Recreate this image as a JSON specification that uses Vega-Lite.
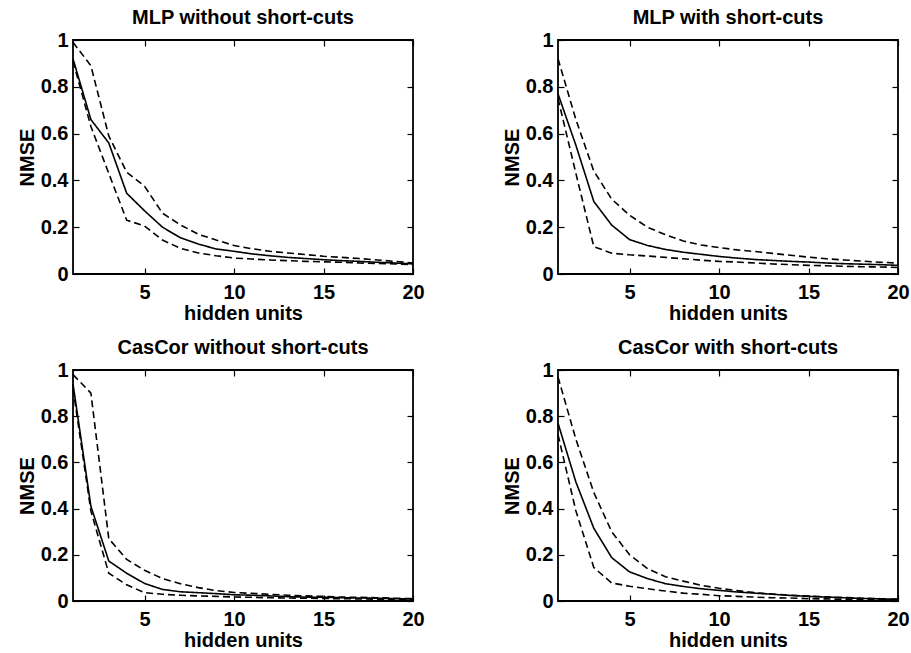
{
  "$schema": "https://vega.github.io/schema/vega-lite/v6.json",
  "padding": {"left": 16, "top": 7, "right": 0, "bottom": 0},
  "background": "white",
  "data": {"values": [
    {"p":1,"h":1,"mean":0.92,"upper":0.99,"lower":0.91},
    {"p":1,"h":2,"mean":0.66,"upper":0.89,"lower":0.63},
    {"p":1,"h":3,"mean":0.56,"upper":0.59,"lower":0.43},
    {"p":1,"h":4,"mean":0.345,"upper":0.435,"lower":0.23},
    {"p":1,"h":5,"mean":0.27,"upper":0.375,"lower":0.205},
    {"p":1,"h":6,"mean":0.2,"upper":0.26,"lower":0.145},
    {"p":1,"h":7,"mean":0.155,"upper":0.21,"lower":0.11},
    {"p":1,"h":8,"mean":0.128,"upper":0.17,"lower":0.09},
    {"p":1,"h":9,"mean":0.107,"upper":0.145,"lower":0.078},
    {"p":1,"h":10,"mean":0.097,"upper":0.122,"lower":0.068},
    {"p":1,"h":11,"mean":0.086,"upper":0.108,"lower":0.064},
    {"p":1,"h":12,"mean":0.078,"upper":0.097,"lower":0.06},
    {"p":1,"h":13,"mean":0.071,"upper":0.09,"lower":0.057},
    {"p":1,"h":14,"mean":0.066,"upper":0.083,"lower":0.054},
    {"p":1,"h":15,"mean":0.061,"upper":0.076,"lower":0.052},
    {"p":1,"h":16,"mean":0.057,"upper":0.071,"lower":0.05},
    {"p":1,"h":17,"mean":0.054,"upper":0.066,"lower":0.047},
    {"p":1,"h":18,"mean":0.05,"upper":0.06,"lower":0.045},
    {"p":1,"h":19,"mean":0.047,"upper":0.054,"lower":0.043},
    {"p":1,"h":20,"mean":0.043,"upper":0.047,"lower":0.04},
    {"p":2,"h":1,"mean":0.77,"upper":0.92,"lower":0.75},
    {"p":2,"h":2,"mean":0.55,"upper":0.66,"lower":0.43},
    {"p":2,"h":3,"mean":0.31,"upper":0.44,"lower":0.117},
    {"p":2,"h":4,"mean":0.209,"upper":0.32,"lower":0.089},
    {"p":2,"h":5,"mean":0.147,"upper":0.251,"lower":0.082},
    {"p":2,"h":6,"mean":0.122,"upper":0.2,"lower":0.077},
    {"p":2,"h":7,"mean":0.105,"upper":0.168,"lower":0.071},
    {"p":2,"h":8,"mean":0.093,"upper":0.141,"lower":0.065},
    {"p":2,"h":9,"mean":0.084,"upper":0.124,"lower":0.059},
    {"p":2,"h":10,"mean":0.075,"upper":0.113,"lower":0.054},
    {"p":2,"h":11,"mean":0.068,"upper":0.103,"lower":0.051},
    {"p":2,"h":12,"mean":0.062,"upper":0.096,"lower":0.047},
    {"p":2,"h":13,"mean":0.058,"upper":0.088,"lower":0.043},
    {"p":2,"h":14,"mean":0.054,"upper":0.08,"lower":0.04},
    {"p":2,"h":15,"mean":0.051,"upper":0.072,"lower":0.037},
    {"p":2,"h":16,"mean":0.047,"upper":0.065,"lower":0.035},
    {"p":2,"h":17,"mean":0.044,"upper":0.06,"lower":0.033},
    {"p":2,"h":18,"mean":0.042,"upper":0.055,"lower":0.031},
    {"p":2,"h":19,"mean":0.04,"upper":0.05,"lower":0.03},
    {"p":2,"h":20,"mean":0.037,"upper":0.047,"lower":0.028},
    {"p":3,"h":1,"mean":0.94,"upper":0.98,"lower":0.92},
    {"p":3,"h":2,"mean":0.41,"upper":0.9,"lower":0.39},
    {"p":3,"h":3,"mean":0.173,"upper":0.27,"lower":0.12},
    {"p":3,"h":4,"mean":0.12,"upper":0.18,"lower":0.07},
    {"p":3,"h":5,"mean":0.076,"upper":0.133,"lower":0.036},
    {"p":3,"h":6,"mean":0.05,"upper":0.097,"lower":0.029},
    {"p":3,"h":7,"mean":0.04,"upper":0.075,"lower":0.025},
    {"p":3,"h":8,"mean":0.036,"upper":0.058,"lower":0.022},
    {"p":3,"h":9,"mean":0.032,"upper":0.045,"lower":0.02},
    {"p":3,"h":10,"mean":0.027,"upper":0.037,"lower":0.017},
    {"p":3,"h":11,"mean":0.025,"upper":0.033,"lower":0.016},
    {"p":3,"h":12,"mean":0.022,"upper":0.029,"lower":0.014},
    {"p":3,"h":13,"mean":0.019,"upper":0.025,"lower":0.013},
    {"p":3,"h":14,"mean":0.017,"upper":0.022,"lower":0.012},
    {"p":3,"h":15,"mean":0.016,"upper":0.02,"lower":0.011},
    {"p":3,"h":16,"mean":0.014,"upper":0.017,"lower":0.01},
    {"p":3,"h":17,"mean":0.013,"upper":0.016,"lower":0.009},
    {"p":3,"h":18,"mean":0.012,"upper":0.014,"lower":0.008},
    {"p":3,"h":19,"mean":0.01,"upper":0.012,"lower":0.007},
    {"p":3,"h":20,"mean":0.009,"upper":0.01,"lower":0.006},
    {"p":4,"h":1,"mean":0.77,"upper":0.97,"lower":0.72},
    {"p":4,"h":2,"mean":0.515,"upper":0.7,"lower":0.39},
    {"p":4,"h":3,"mean":0.315,"upper":0.47,"lower":0.145},
    {"p":4,"h":4,"mean":0.188,"upper":0.3,"lower":0.078},
    {"p":4,"h":5,"mean":0.126,"upper":0.2,"lower":0.064},
    {"p":4,"h":6,"mean":0.097,"upper":0.14,"lower":0.053},
    {"p":4,"h":7,"mean":0.075,"upper":0.105,"lower":0.043},
    {"p":4,"h":8,"mean":0.063,"upper":0.086,"lower":0.034},
    {"p":4,"h":9,"mean":0.053,"upper":0.068,"lower":0.029},
    {"p":4,"h":10,"mean":0.046,"upper":0.055,"lower":0.023},
    {"p":4,"h":11,"mean":0.039,"upper":0.045,"lower":0.02},
    {"p":4,"h":12,"mean":0.034,"upper":0.036,"lower":0.017},
    {"p":4,"h":13,"mean":0.029,"upper":0.03,"lower":0.014},
    {"p":4,"h":14,"mean":0.024,"upper":0.025,"lower":0.013},
    {"p":4,"h":15,"mean":0.02,"upper":0.021,"lower":0.01},
    {"p":4,"h":16,"mean":0.017,"upper":0.018,"lower":0.009},
    {"p":4,"h":17,"mean":0.014,"upper":0.015,"lower":0.007},
    {"p":4,"h":18,"mean":0.011,"upper":0.012,"lower":0.006},
    {"p":4,"h":19,"mean":0.009,"upper":0.01,"lower":0.005},
    {"p":4,"h":20,"mean":0.007,"upper":0.008,"lower":0.004}
  ]},
  "transform": [{"fold": ["mean", "upper", "lower"], "as": ["series", "nmse"]}],
  "columns": 2,
  "spacing": {"column": 75, "row": 13},
  "concat": [
    {
      "title": "MLP without short-cuts",
      "transform": [{"filter": "datum.p === 1"}],
      "width": 340, "height": 234,
      "resolve": {"axis": {"x": "independent", "y": "independent"}},
      "encoding": {
        "strokeDash": {"field": "series", "type": "nominal", "scale": {"domain": ["mean", "upper", "lower"], "range": [[1, 0], [7, 4], [7, 4]]}, "legend": null}
      },
      "layer": [
        {
          "mark": {"type": "line", "color": "black", "strokeWidth": 1.6},
          "encoding": {
            "x": {"field": "h", "type": "quantitative", "scale": {"domain": [1, 20], "nice": false}, "axis": {"values": [5, 10, 15, 20], "title": "hidden units"}},
            "y": {"field": "nmse", "type": "quantitative", "scale": {"domain": [0, 1], "nice": false}, "axis": {"values": [0, 0.2, 0.4, 0.6, 0.8, 1], "format": "~g", "title": "NMSE"}}
          }
        },
        {
          "mark": {"type": "line", "color": "black", "strokeWidth": 1.6, "opacity": 0},
          "encoding": {
            "x": {"field": "h", "type": "quantitative", "scale": {"domain": [1, 20], "nice": false}, "axis": {"orient": "top", "values": [5, 10, 15, 20], "labels": false, "title": null}},
            "y": {"field": "nmse", "type": "quantitative", "scale": {"domain": [0, 1], "nice": false}, "axis": {"orient": "right", "values": [0, 0.2, 0.4, 0.6, 0.8, 1], "labels": false, "title": null}}
          }
        }
      ]
    },
    {
      "title": "MLP with short-cuts",
      "transform": [{"filter": "datum.p === 2"}],
      "width": 340, "height": 234,
      "resolve": {"axis": {"x": "independent", "y": "independent"}},
      "encoding": {
        "strokeDash": {"field": "series", "type": "nominal", "scale": {"domain": ["mean", "upper", "lower"], "range": [[1, 0], [7, 4], [7, 4]]}, "legend": null}
      },
      "layer": [
        {
          "mark": {"type": "line", "color": "black", "strokeWidth": 1.6},
          "encoding": {
            "x": {"field": "h", "type": "quantitative", "scale": {"domain": [1, 20], "nice": false}, "axis": {"values": [5, 10, 15, 20], "title": "hidden units"}},
            "y": {"field": "nmse", "type": "quantitative", "scale": {"domain": [0, 1], "nice": false}, "axis": {"values": [0, 0.2, 0.4, 0.6, 0.8, 1], "format": "~g", "title": "NMSE"}}
          }
        },
        {
          "mark": {"type": "line", "color": "black", "strokeWidth": 1.6, "opacity": 0},
          "encoding": {
            "x": {"field": "h", "type": "quantitative", "scale": {"domain": [1, 20], "nice": false}, "axis": {"orient": "top", "values": [5, 10, 15, 20], "labels": false, "title": null}},
            "y": {"field": "nmse", "type": "quantitative", "scale": {"domain": [0, 1], "nice": false}, "axis": {"orient": "right", "values": [0, 0.2, 0.4, 0.6, 0.8, 1], "labels": false, "title": null}}
          }
        }
      ]
    },
    {
      "title": "CasCor without short-cuts",
      "transform": [{"filter": "datum.p === 3"}],
      "width": 340, "height": 231,
      "resolve": {"axis": {"x": "independent", "y": "independent"}},
      "encoding": {
        "strokeDash": {"field": "series", "type": "nominal", "scale": {"domain": ["mean", "upper", "lower"], "range": [[1, 0], [7, 4], [7, 4]]}, "legend": null}
      },
      "layer": [
        {
          "mark": {"type": "line", "color": "black", "strokeWidth": 1.6},
          "encoding": {
            "x": {"field": "h", "type": "quantitative", "scale": {"domain": [1, 20], "nice": false}, "axis": {"values": [5, 10, 15, 20], "title": "hidden units"}},
            "y": {"field": "nmse", "type": "quantitative", "scale": {"domain": [0, 1], "nice": false}, "axis": {"values": [0, 0.2, 0.4, 0.6, 0.8, 1], "format": "~g", "title": "NMSE"}}
          }
        },
        {
          "mark": {"type": "line", "color": "black", "strokeWidth": 1.6, "opacity": 0},
          "encoding": {
            "x": {"field": "h", "type": "quantitative", "scale": {"domain": [1, 20], "nice": false}, "axis": {"orient": "top", "values": [5, 10, 15, 20], "labels": false, "title": null}},
            "y": {"field": "nmse", "type": "quantitative", "scale": {"domain": [0, 1], "nice": false}, "axis": {"orient": "right", "values": [0, 0.2, 0.4, 0.6, 0.8, 1], "labels": false, "title": null}}
          }
        }
      ]
    },
    {
      "title": "CasCor with short-cuts",
      "transform": [{"filter": "datum.p === 4"}],
      "width": 340, "height": 231,
      "resolve": {"axis": {"x": "independent", "y": "independent"}},
      "encoding": {
        "strokeDash": {"field": "series", "type": "nominal", "scale": {"domain": ["mean", "upper", "lower"], "range": [[1, 0], [7, 4], [7, 4]]}, "legend": null}
      },
      "layer": [
        {
          "mark": {"type": "line", "color": "black", "strokeWidth": 1.6},
          "encoding": {
            "x": {"field": "h", "type": "quantitative", "scale": {"domain": [1, 20], "nice": false}, "axis": {"values": [5, 10, 15, 20], "title": "hidden units"}},
            "y": {"field": "nmse", "type": "quantitative", "scale": {"domain": [0, 1], "nice": false}, "axis": {"values": [0, 0.2, 0.4, 0.6, 0.8, 1], "format": "~g", "title": "NMSE"}}
          }
        },
        {
          "mark": {"type": "line", "color": "black", "strokeWidth": 1.6, "opacity": 0},
          "encoding": {
            "x": {"field": "h", "type": "quantitative", "scale": {"domain": [1, 20], "nice": false}, "axis": {"orient": "top", "values": [5, 10, 15, 20], "labels": false, "title": null}},
            "y": {"field": "nmse", "type": "quantitative", "scale": {"domain": [0, 1], "nice": false}, "axis": {"orient": "right", "values": [0, 0.2, 0.4, 0.6, 0.8, 1], "labels": false, "title": null}}
          }
        }
      ]
    }
  ],
  "config": {
    "font": "Liberation Sans",
    "view": {"stroke": "black", "strokeWidth": 1.8},
    "axis": {
      "domain": false,
      "grid": false,
      "tickColor": "black",
      "tickSize": -6,
      "tickWidth": 1.2,
      "labelFont": "Liberation Sans",
      "labelFontSize": 20,
      "labelFontWeight": "bold",
      "labelColor": "black",
      "titleFont": "Liberation Sans",
      "titleFontSize": 20,
      "titleFontWeight": "bold",
      "titleColor": "black"
    },
    "axisX": {"labelPadding": 14, "titlePadding": 1, "labelFlush": false},
    "axisY": {"labelPadding": 11, "titlePadding": 3, "labelFlush": false},
    "title": {"font": "Liberation Sans", "fontSize": 20, "fontWeight": "bold", "color": "black", "frame": "group", "offset": 2}
  }
}
